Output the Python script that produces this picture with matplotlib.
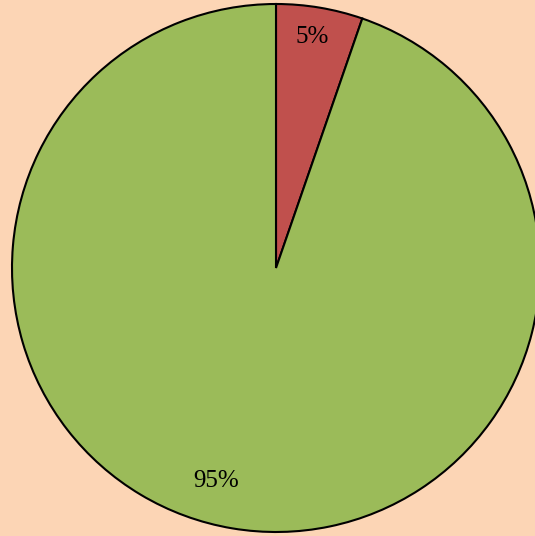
import matplotlib.pyplot as plt

# --- Data ---
labels = ["A", "B"]
values = [5.3, 94.7]
colors = ["#C0504D", "#9BBB59"]

bg = "#FCD5B5"

plt.rcParams.update({
    "font.family": "serif",
    "font.serif": ["Liberation Serif", "DejaVu Serif"],
})

W, H = 535, 536
fig = plt.figure(figsize=(W / 100, H / 100), dpi=100, facecolor=bg)

# pie centre at (276, 268) px, radius 264 px
cx, cy, r = 276, 268, 264
ax = fig.add_axes([(cx - r) / W, (H - cy - r) / H, 2 * r / W, 2 * r / H])
ax.set_facecolor(bg)

wedges, texts, autotexts = ax.pie(
    values, colors=colors, startangle=90, counterclock=False,
    autopct="%.0f%%", pctdistance=0.86,
    wedgeprops=dict(edgecolor="black", linewidth=1.5),
    textprops=dict(fontsize=18, color="black"),
)
for w in wedges:
    w.set_clip_on(False)

# label placement as in the original
autotexts[0].set_position((0.136, 0.875))
autotexts[1].set_position((-0.227, -0.807))

ax.set_xlim(-1, 1)
ax.set_ylim(-1, 1)
ax.set_aspect("equal")
ax.axis("off")

fig.savefig("out.png", dpi=100, facecolor=bg)
